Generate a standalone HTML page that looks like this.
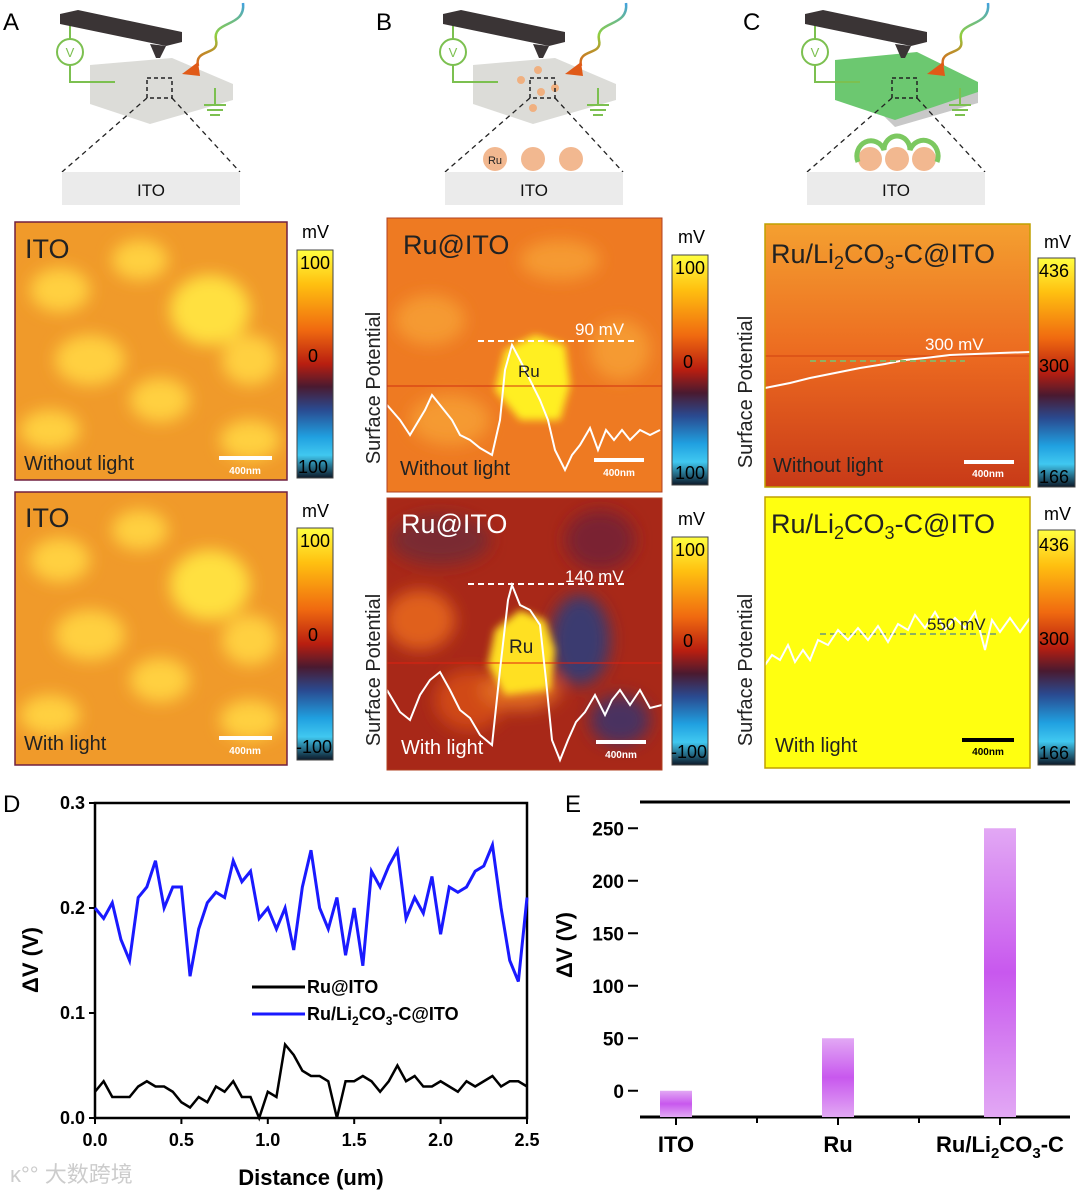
<!DOCTYPE html>
<html><head><meta charset="utf-8">
<style>
html,body{margin:0;padding:0;background:#fff;}
svg{display:block;font-family:"Liberation Sans",Arial,sans-serif;}
</style></head>
<body>
<svg id="fig" width="1080" height="1193" viewBox="0 0 1080 1193" xmlns="http://www.w3.org/2000/svg">
<defs>
 <linearGradient id="cbar" x1="0" y1="0" x2="0" y2="1">
  <stop offset="0" stop-color="#ffff40"/><stop offset="0.15" stop-color="#ffc010"/>
  <stop offset="0.35" stop-color="#f06a10"/><stop offset="0.5" stop-color="#b81e10"/>
  <stop offset="0.6" stop-color="#4a1a30"/><stop offset="0.7" stop-color="#2a4a90"/>
  <stop offset="0.82" stop-color="#20a0e0"/><stop offset="0.9" stop-color="#40c8f0"/>
  <stop offset="1" stop-color="#0c1828"/>
 </linearGradient>
 <linearGradient id="cgrad" x1="0" y1="0" x2="0" y2="1">
  <stop offset="0" stop-color="#f4a030"/><stop offset="0.5" stop-color="#ec6a20"/><stop offset="1" stop-color="#c83a18"/>
 </linearGradient>
 <linearGradient id="barg" x1="0" y1="0" x2="0" y2="1">
  <stop offset="0" stop-color="#e2a8f4"/><stop offset="0.5" stop-color="#c858ee"/><stop offset="1" stop-color="#e2a8f4"/>
 </linearGradient>
 <linearGradient id="wave" x1="0" y1="0" x2="0" y2="1">
  <stop offset="0" stop-color="#40a0e0"/><stop offset="0.5" stop-color="#90d040"/><stop offset="1" stop-color="#e05a18"/>
 </linearGradient>
 <filter id="blur8"><feGaussianBlur stdDeviation="8"/></filter>
 <filter id="blur4"><feGaussianBlur stdDeviation="4"/></filter>
 <clipPath id="cA1"><rect x="15" y="222" width="272" height="258"/></clipPath>
 <clipPath id="cA2"><rect x="15" y="492" width="272" height="273"/></clipPath>
 <clipPath id="cB1"><rect x="387" y="218" width="275" height="274"/></clipPath>
 <clipPath id="cB2"><rect x="387" y="498" width="275" height="272"/></clipPath>
 <g id="sub">
  <polygon points="90,65 172,58 233,84 233,100 150,124 90,104" fill="#dcdcd8"/>
 </g>
 <g id="schemTop">
  <polyline points="70,22 70,39" fill="none" stroke="#7cc050" stroke-width="2"/>
  <polyline points="70,65 70,82 115,82" fill="none" stroke="#7cc050" stroke-width="2"/>
  <circle cx="70" cy="52" r="13" fill="#fff" stroke="#7cc050" stroke-width="2"/>
  <text x="70" y="57" font-size="13" text-anchor="middle" fill="#7cc050">V</text>
  <line x1="215" y1="88" x2="215" y2="105" stroke="#7cc050" stroke-width="2"/>
  <line x1="204" y1="105" x2="226" y2="105" stroke="#7cc050" stroke-width="2"/>
  <line x1="207" y1="110" x2="223" y2="110" stroke="#7cc050" stroke-width="2"/>
  <line x1="210" y1="115" x2="220" y2="115" stroke="#7cc050" stroke-width="2"/>
  <polygon points="60,14 78,10 182,32 182,42 166,46 60,24" fill="#3a3435"/>
  <polygon points="150,44 166,46 160,58 156,58" fill="#3a3435"/>
  <path d="M243,3 C246,28 212,20 216,40 C220,56 194,48 198,66" fill="none" stroke="url(#wave)" stroke-width="2.5"/>
  <polygon points="182,74 198,62 200,76" fill="#e05a18"/>
 </g>
 <g id="schemBot">
  <rect x="147" y="78" width="25" height="20" fill="none" stroke="#222" stroke-width="1.5" stroke-dasharray="4,3"/>
  <line x1="147" y1="98" x2="62" y2="172" stroke="#222" stroke-width="1.3" stroke-dasharray="5,4"/>
  <line x1="172" y1="98" x2="240" y2="172" stroke="#222" stroke-width="1.3" stroke-dasharray="5,4"/>
  <rect x="62" y="172" width="178" height="33" fill="#ebebeb"/>
  <text x="151" y="196" font-size="17" text-anchor="middle" fill="#111">ITO</text>
 </g>
</defs>

<text x="3" y="30" font-size="24">A</text>
<text x="376" y="30" font-size="24">B</text>
<text x="743" y="30" font-size="24">C</text>

<g><use href="#sub"/><use href="#schemBot"/><use href="#schemTop"/></g>
<g transform="translate(383,0)">
 <use href="#sub"/>
 <circle cx="155" cy="70" r="4" fill="#f0b080"/><circle cx="172" cy="88" r="4" fill="#f0b080"/><circle cx="158" cy="92" r="4" fill="#f0b080"/><circle cx="138" cy="80" r="4" fill="#f0b080"/><circle cx="150" cy="108" r="4" fill="#f0b080"/>
 <use href="#schemBot"/><use href="#schemTop"/>
 <circle cx="112" cy="159" r="12" fill="#f2b890"/><circle cx="150" cy="159" r="12" fill="#f2b890"/><circle cx="188" cy="159" r="12" fill="#f2b890"/>
 <text x="112" y="164" font-size="11" text-anchor="middle" fill="#222">Ru</text>
</g>
<g transform="translate(745,0)">
 <polygon points="90,68 150,127 233,103 233,90" fill="#c8c8c8"/>
 <polygon points="90,60 172,52 233,82 233,92 150,120 90,100" fill="#6cc870"/>
 <use href="#schemBot"/><use href="#schemTop"/>
 <circle cx="125" cy="159" r="12" fill="#f2b890"/><circle cx="152" cy="159" r="12" fill="#f2b890"/><circle cx="179" cy="159" r="12" fill="#f2b890"/>
 <path d="M113,162 A13,14 0 0 1 139,150 A13,14 0 0 1 165,150 A13,14 0 0 1 192,162" fill="none" stroke="#7cc860" stroke-width="5"/>
</g>

<!-- A top -->
<g clip-path="url(#cA1)">
 <rect x="15" y="222" width="272" height="258" fill="#f09a2a"/>
 <g filter="url(#blur8)" fill="#ffd040">
  <ellipse cx="60" cy="290" rx="30" ry="22"/><ellipse cx="140" cy="260" rx="28" ry="20"/><ellipse cx="210" cy="310" rx="40" ry="35" fill="#ffe040"/>
  <ellipse cx="90" cy="360" rx="35" ry="25"/><ellipse cx="250" cy="360" rx="28" ry="25"/><ellipse cx="160" cy="400" rx="30" ry="22"/><ellipse cx="50" cy="430" rx="30" ry="20"/><ellipse cx="250" cy="440" rx="30" ry="20"/>
 </g>
</g>
<rect x="15" y="222" width="272" height="258" fill="none" stroke="#702040" stroke-width="1.5"/>
<text x="25" y="258" font-size="27" fill="#222">ITO</text>
<text x="24" y="470" font-size="20" fill="#222">Without light</text>
<rect x="219" y="456" width="53" height="4" fill="#fff"/><text x="245" y="474" font-size="10" font-weight="bold" fill="#fff" text-anchor="middle">400nm</text>

<!-- A bottom -->
<g clip-path="url(#cA2)">
 <rect x="15" y="492" width="272" height="273" fill="#f09a2a"/>
 <g filter="url(#blur8)" fill="#ffd040">
  <ellipse cx="60" cy="560" rx="30" ry="22"/><ellipse cx="140" cy="530" rx="28" ry="20"/><ellipse cx="210" cy="585" rx="40" ry="35" fill="#ffe040"/>
  <ellipse cx="90" cy="635" rx="35" ry="25"/><ellipse cx="250" cy="640" rx="28" ry="25"/><ellipse cx="160" cy="680" rx="30" ry="22"/><ellipse cx="50" cy="715" rx="30" ry="20"/><ellipse cx="250" cy="720" rx="30" ry="20"/>
 </g>
</g>
<rect x="15" y="492" width="272" height="273" fill="none" stroke="#702040" stroke-width="1.5"/>
<text x="25" y="527" font-size="27" fill="#222">ITO</text>
<text x="24" y="750" font-size="20" fill="#222">With light</text>
<rect x="219" y="736" width="53" height="4" fill="#fff"/><text x="245" y="754" font-size="10" font-weight="bold" fill="#fff" text-anchor="middle">400nm</text>

<!-- B top -->
<g clip-path="url(#cB1)">
 <rect x="387" y="218" width="275" height="274" fill="#ee7a22"/>
 <g filter="url(#blur8)" fill="#f59a30">
  <ellipse cx="430" cy="320" rx="35" ry="25"/><ellipse cx="620" cy="350" rx="30" ry="30"/><ellipse cx="560" cy="260" rx="40" ry="20"/><ellipse cx="450" cy="420" rx="40" ry="25"/>
 </g>
 <polygon points="505,350 535,335 565,345 570,385 560,420 520,420 495,390" fill="#ffef20" filter="url(#blur4)"/>
 <line x1="387" y1="386" x2="662" y2="386" stroke="#d03010" stroke-width="1"/>
 <path d="M387,405 L400,420 L410,435 L425,410 L432,395 L440,405 L452,420 L460,435 L470,440 L480,448 L492,455 L500,420 L505,370 L512,345 L520,360 L530,380 L540,400 L548,420 L555,450 L565,470 L572,455 L580,445 L590,428 L598,450 L606,430 L614,440 L622,430 L630,440 L640,430 L650,435 L660,430" fill="none" stroke="#fff" stroke-width="2"/>
 <line x1="478" y1="341" x2="638" y2="341" stroke="#fff" stroke-width="2" stroke-dasharray="6,4"/>
</g>
<rect x="387" y="218" width="275" height="274" fill="none" stroke="#b04020" stroke-width="1"/>
<text x="403" y="254" font-size="27" fill="#222">Ru@ITO</text>
<text x="575" y="335" font-size="17" fill="#fff">90 mV</text>
<text x="518" y="377" font-size="17" fill="#222">Ru</text>
<text x="400" y="475" font-size="20" fill="#222">Without light</text>
<rect x="594" y="458" width="50" height="4" fill="#fff"/><text x="619" y="476" font-size="10" font-weight="bold" fill="#fff" text-anchor="middle">400nm</text>
<text transform="translate(380,388) rotate(-90)" font-size="20" fill="#222" text-anchor="middle">Surface Potential</text>

<!-- B bottom -->
<g clip-path="url(#cB2)">
 <rect x="387" y="498" width="275" height="272" fill="#a82818"/>
 <g filter="url(#blur8)">
  <ellipse cx="420" cy="620" rx="35" ry="30" fill="#e0601a"/><ellipse cx="470" cy="700" rx="35" ry="30" fill="#d04818"/><ellipse cx="600" cy="540" rx="35" ry="30" fill="#7a2030"/>
  <ellipse cx="580" cy="640" rx="30" ry="45" fill="#3a3a70"/><ellipse cx="620" cy="720" rx="30" ry="25" fill="#4a3060"/><ellipse cx="440" cy="540" rx="50" ry="25" fill="#7a2a30"/><ellipse cx="520" cy="690" rx="40" ry="20" fill="#e06a20"/>
 </g>
 <polygon points="495,630 520,610 545,620 555,650 550,690 505,695 488,665" fill="#ffe020" filter="url(#blur4)"/>
 <line x1="387" y1="663" x2="662" y2="663" stroke="#e02010" stroke-width="1"/>
 <path d="M387,690 L400,712 L410,720 L420,695 L430,680 L440,672 L450,690 L460,710 L470,718 L480,735 L492,745 L500,670 L508,600 L512,585 L520,605 L530,610 L540,625 L546,680 L552,740 L560,760 L568,740 L576,722 L585,712 L595,695 L605,715 L612,700 L620,690 L630,705 L640,690 L650,708 L662,705" fill="none" stroke="#fff" stroke-width="2"/>
 <line x1="468" y1="584" x2="628" y2="584" stroke="#fff" stroke-width="2" stroke-dasharray="6,4"/>
</g>
<rect x="387" y="498" width="275" height="272" fill="none" stroke="#b04020" stroke-width="1"/>
<text x="401" y="533" font-size="27" fill="#fff">Ru@ITO</text>
<text x="565" y="582" font-size="17" fill="#fff">140 mV</text>
<text x="509" y="653" font-size="19" fill="#222">Ru</text>
<text x="401" y="754" font-size="20" fill="#fff">With light</text>
<rect x="596" y="740" width="50" height="4" fill="#fff"/><text x="621" y="758" font-size="10" font-weight="bold" fill="#fff" text-anchor="middle">400nm</text>
<text transform="translate(380,670) rotate(-90)" font-size="20" fill="#222" text-anchor="middle">Surface Potential</text>

<!-- C top -->
<g>
 <rect x="765" y="224" width="265" height="263" fill="url(#cgrad)"/>
 <line x1="765" y1="356" x2="1030" y2="356" stroke="#d04010" stroke-width="1"/>
 <path d="M765,388 L790,383 L810,378 L835,373 L860,368 L885,364 L905,360 L925,358 L950,355 L975,354 L1000,353 L1030,352" fill="none" stroke="#fff" stroke-width="2"/>
 <line x1="810" y1="361" x2="965" y2="361" stroke="#90b060" stroke-width="2" stroke-dasharray="6,4"/>
</g>
<rect x="765" y="224" width="265" height="263" fill="none" stroke="#c0a000" stroke-width="1.5"/>
<text x="771" y="263" font-size="27" fill="#222">Ru/Li<tspan font-size="18" dy="6">2</tspan><tspan dy="-6">CO</tspan><tspan font-size="18" dy="6">3</tspan><tspan dy="-6">-C@ITO</tspan></text>
<text x="925" y="350" font-size="17" fill="#fff">300 mV</text>
<text x="773" y="472" font-size="20" fill="#222">Without light</text>
<rect x="964" y="460" width="50" height="4" fill="#fff"/><text x="988" y="477" font-size="10" font-weight="bold" fill="#fff" text-anchor="middle">400nm</text>
<text transform="translate(752,392) rotate(-90)" font-size="20" fill="#222" text-anchor="middle">Surface Potential</text>

<!-- C bottom -->
<g>
 <rect x="765" y="497" width="265" height="271" fill="#ffff10"/>
 <line x1="820" y1="634" x2="1000" y2="634" stroke="#90b060" stroke-width="2" stroke-dasharray="6,4"/>
 <path d="M765,665 L772,655 L780,660 L788,645 L795,662 L803,650 L810,660 L818,640 L828,645 L838,630 L848,640 L858,628 L868,640 L878,626 L888,642 L898,624 L908,630 L915,615 L925,628 L935,612 L945,630 L955,618 L965,628 L975,612 L985,650 L992,620 L1000,632 L1010,618 L1020,632 L1030,618" fill="none" stroke="#fff" stroke-width="2"/>
</g>
<rect x="765" y="497" width="265" height="271" fill="none" stroke="#c0a000" stroke-width="1.5"/>
<text x="771" y="533" font-size="27" fill="#222">Ru/Li<tspan font-size="18" dy="6">2</tspan><tspan dy="-6">CO</tspan><tspan font-size="18" dy="6">3</tspan><tspan dy="-6">-C@ITO</tspan></text>
<text x="927" y="630" font-size="17" fill="#222">550 mV</text>
<text x="775" y="752" font-size="20" fill="#222">With light</text>
<rect x="962" y="738" width="52" height="4" fill="#000"/><text x="988" y="755" font-size="10" font-weight="bold" fill="#000" text-anchor="middle">400nm</text>
<text transform="translate(752,670) rotate(-90)" font-size="20" fill="#222" text-anchor="middle">Surface Potential</text>

<!-- colorbars -->
<g><text x="302" y="238" font-size="18">mV</text><rect x="297" y="250" width="36" height="228" fill="url(#cbar)" stroke="#444"/><text x="300" y="269" font-size="18">100</text><text x="308" y="362" font-size="18">0</text><text x="298" y="473" font-size="18">100</text></g>
<g><text x="302" y="517" font-size="18">mV</text><rect x="297" y="528" width="36" height="232" fill="url(#cbar)" stroke="#444"/><text x="300" y="547" font-size="18">100</text><text x="308" y="641" font-size="18">0</text><text x="296" y="753" font-size="18">-100</text></g>
<g><text x="678" y="243" font-size="18">mV</text><rect x="672" y="255" width="36" height="230" fill="url(#cbar)" stroke="#444"/><text x="675" y="274" font-size="18">100</text><text x="683" y="368" font-size="18">0</text><text x="675" y="479" font-size="18">100</text></g>
<g><text x="678" y="525" font-size="18">mV</text><rect x="672" y="537" width="36" height="228" fill="url(#cbar)" stroke="#444"/><text x="675" y="556" font-size="18">100</text><text x="683" y="647" font-size="18">0</text><text x="671" y="758" font-size="18">-100</text></g>
<g><text x="1044" y="248" font-size="18">mV</text><rect x="1038" y="258" width="37" height="229" fill="url(#cbar)" stroke="#444"/><text x="1039" y="277" font-size="18">436</text><text x="1039" y="372" font-size="18">300</text><text x="1039" y="483" font-size="18">166</text></g>
<g><text x="1044" y="520" font-size="18">mV</text><rect x="1038" y="530" width="37" height="235" fill="url(#cbar)" stroke="#444"/><text x="1039" y="551" font-size="18">436</text><text x="1039" y="645" font-size="18">300</text><text x="1039" y="759" font-size="18">166</text></g>

<text x="3" y="812" font-size="24">D</text>
<g id="chartD"></g>
<text x="565" y="812" font-size="24">E</text>
<g id="chartE"></g>
<text x="10" y="1182" font-size="22" fill="#ccc">ĸ°° 大数跨境</text>
</svg>
<script>
const NS="http://www.w3.org/2000/svg";
const distance=[0,0.05,0.1,0.15,0.2,0.25,0.3,0.35,0.4,0.45,0.5,0.55,0.6,0.65,0.7,0.75,0.8,0.85,0.9,0.95,1.0,1.05,1.1,1.15,1.2,1.25,1.3,1.35,1.4,1.45,1.5,1.55,1.6,1.65,1.7,1.75,1.8,1.85,1.9,1.95,2.0,2.05,2.1,2.15,2.2,2.25,2.3,2.35,2.4,2.45,2.5];
const blueSeries=[0.20,0.19,0.205,0.17,0.15,0.21,0.22,0.245,0.20,0.22,0.22,0.135,0.18,0.205,0.215,0.21,0.245,0.225,0.235,0.19,0.20,0.18,0.20,0.16,0.22,0.255,0.20,0.18,0.21,0.155,0.20,0.145,0.235,0.22,0.24,0.255,0.19,0.21,0.195,0.23,0.175,0.22,0.215,0.22,0.235,0.24,0.26,0.20,0.15,0.13,0.21];
const blackSeries=[0.025,0.035,0.02,0.02,0.02,0.03,0.035,0.03,0.03,0.025,0.015,0.01,0.02,0.015,0.03,0.025,0.035,0.02,0.02,0.0,0.025,0.02,0.07,0.06,0.045,0.04,0.04,0.035,0.0,0.035,0.035,0.04,0.035,0.025,0.035,0.05,0.035,0.04,0.03,0.03,0.035,0.03,0.025,0.035,0.03,0.035,0.04,0.03,0.035,0.035,0.03];
const xTicksD=[0,0.5,1.0,1.5,2.0,2.5];
const yTicksD=[0,0.1,0.2,0.3];
const barCategories=["ITO","Ru","Ru/Li2CO3-C"];
const barValues=[0,50,250];
const yTicksE=[0,50,100,150,200,250];

function mk(tag,attrs,parent){const e=document.createElementNS(NS,tag);for(const k in attrs)e.setAttribute(k,attrs[k]);parent.appendChild(e);return e;}

(function(){
 const g=document.getElementById('chartD');
 const L=95,R=527,T=803,B=1118;
 const xs=v=>L+(v-0)/(2.5-0)*(R-L);
 const ys=v=>B-(v-0)/(0.3-0)*(B-T);
 const fr=mk('rect',{x:L,y:T,width:R-L,height:B-T,fill:'none',stroke:'#000','stroke-width':2.5},g);
 
 xTicksD.forEach(t=>{mk('line',{x1:xs(t),x2:xs(t),y1:B,y2:B+6,stroke:'#000','stroke-width':2},g);
  const tx=mk('text',{x:xs(t),y:B+28,'font-size':18,'font-weight':'bold','text-anchor':'middle'},g);tx.textContent=t.toFixed(1);
  });
 yTicksD.forEach(t=>{mk('line',{x1:L-6,x2:L,y1:ys(t),y2:ys(t),stroke:'#000','stroke-width':2},g);
  const tx=mk('text',{x:L-10,y:ys(t)+6,'font-size':18,'font-weight':'bold','text-anchor':'end'},g);tx.textContent=t.toFixed(1);
  });
 const xt=mk('text',{x:(L+R)/2,y:1185,'font-size':22,'font-weight':'bold','text-anchor':'middle'},g);xt.textContent='Distance (um)';
 
 const yt=mk('text',{transform:'translate(38,960) rotate(-90)','font-size':22,'font-weight':'bold','text-anchor':'middle'},g);yt.textContent='ΔV (V)';
 
 const pb=mk('polyline',{points:distance.map((d,i)=>xs(d)+','+ys(blueSeries[i])).join(' '),fill:'none',stroke:'#1a1aff','stroke-width':3},g);
 
 const pk=mk('polyline',{points:distance.map((d,i)=>xs(d)+','+ys(blackSeries[i])).join(' '),fill:'none',stroke:'#000','stroke-width':2.5},g);
 
 const l1=mk('line',{x1:252,x2:305,y1:987,y2:987,stroke:'#000','stroke-width':3},g);
 
 const t1=mk('text',{x:307,y:993,'font-size':18,'font-weight':'bold'},g);t1.textContent='Ru@ITO';
 
 const l2=mk('line',{x1:252,x2:305,y1:1014,y2:1014,stroke:'#1a1aff','stroke-width':3},g);
 
 const t2=mk('text',{x:307,y:1020,'font-size':18,'font-weight':'bold'},g);
 t2.innerHTML='Ru/Li<tspan font-size="12" dy="5">2</tspan><tspan dy="-5">CO</tspan><tspan font-size="12" dy="5">3</tspan><tspan dy="-5">-C@ITO</tspan>';
 
})();

(function(){
 const g=document.getElementById('chartE');
 const L=640,R=1070,T=802,B=1117;
 const ymin=-25,ymax=275;
 const ys=v=>B-(v-ymin)/(ymax-ymin)*(B-T);
 const xc=i=>L+36+i*162;
 mk('line',{x1:L,x2:R,y1:T,y2:T,stroke:'#000','stroke-width':3},g);
 mk('line',{x1:L,x2:R,y1:B,y2:B,stroke:'#000','stroke-width':3},g);
 barCategories.forEach((c,i)=>{
  const x=xc(i);
  const r=mk('rect',{x:x-16,y:ys(barValues[i]),width:32,height:B-ys(barValues[i]),fill:'url(#barg)'},g);
  
  
  mk('line',{x1:x,x2:x,y1:B,y2:B+8,stroke:'#000','stroke-width':2},g);
  if(i<2){mk('line',{x1:x+81,x2:x+81,y1:B,y2:B+6,stroke:'#000','stroke-width':2},g);}
  const t=mk('text',{x:x,y:B+35,'font-size':22,'font-weight':'bold','text-anchor':'middle'},g);
  if(c==='Ru/Li2CO3-C'){t.innerHTML='Ru/Li<tspan font-size="15" dy="6">2</tspan><tspan dy="-6">CO</tspan><tspan font-size="15" dy="6">3</tspan><tspan dy="-6">-C</tspan>';}else{t.textContent=c;}
  
 });
 yTicksE.forEach(t=>{
  const tk=mk('text',{x:624,y:ys(t)+7,'font-size':19,'font-weight':'bold','text-anchor':'end'},g);tk.textContent=t;
  
  mk('line',{x1:628,x2:638,y1:ys(t),y2:ys(t),stroke:'#000','stroke-width':2},g);
 });
 const yt=mk('text',{transform:'translate(572,945) rotate(-90)','font-size':22,'font-weight':'bold','text-anchor':'middle'},g);yt.textContent='ΔV (V)';
 
})();
</script>
</body></html>
